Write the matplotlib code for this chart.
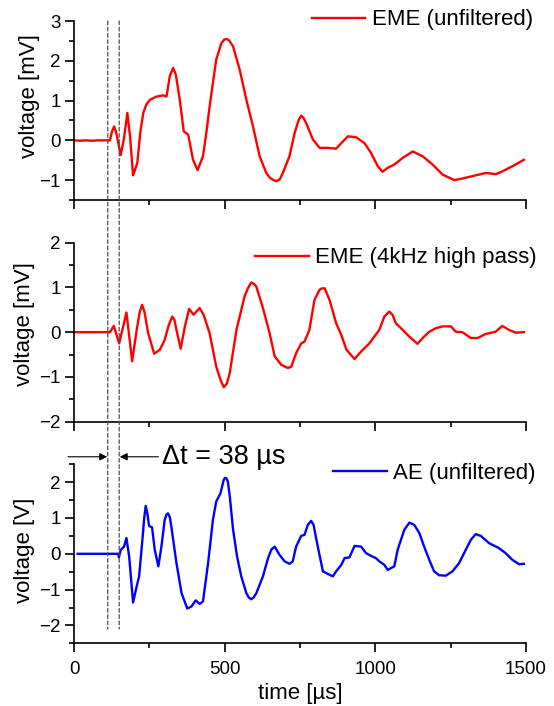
import matplotlib
matplotlib.use('Agg')
import matplotlib.pyplot as plt
from matplotlib.patches import ConnectionPatch
from matplotlib.ticker import MultipleLocator

plt.rcParams['font.family'] = ['Liberation Sans', 'DejaVu Sans']

# EME (unfiltered), time in us, voltage in mV
t_eme = [0, 20, 40, 60, 80, 100, 119, 126, 133, 140, 155, 166, 177, 186, 196, 210, 220, 230,
         240, 252, 274, 296, 307, 318, 329, 338, 351, 364, 379, 395, 410, 428, 439, 450,
         461, 472, 489, 498, 506, 515, 528, 550, 572, 594, 616, 638, 650, 660, 671, 683,
         693, 715, 732, 746, 754, 762, 770, 793, 815, 842, 870, 887, 909, 936, 964,
         986, 1008, 1024, 1041, 1063, 1091, 1124, 1157, 1190, 1223, 1262, 1289, 1322,
         1367, 1400, 1422, 1455, 1493]
v_eme = [0.0, -0.01, 0.0, -0.01, 0.0, 0.0, 0.0, 0.22, 0.35, 0.2, -0.37, 0.05, 0.69, 0.1,
         -0.88, -0.57, 0.2, 0.69, 0.9, 1.02, 1.10, 1.13, 1.10, 1.62, 1.82, 1.65, 1.02,
         0.23, 0.14, -0.49, -0.75, -0.40, 0.18, 0.85, 1.45, 2.03, 2.44, 2.53, 2.55, 2.51,
         2.36, 1.77, 1.02, 0.35, -0.40, -0.82, -0.94, -0.99, -1.03, -0.98, -0.82, -0.40,
         0.18, 0.52, 0.62, 0.56, 0.44, 0.02, -0.19, -0.19, -0.21, -0.07, 0.10, 0.08,
         -0.07, -0.32, -0.65, -0.79, -0.69, -0.61, -0.44, -0.28, -0.40, -0.61, -0.86,
         -1.00, -0.96, -0.90, -0.82, -0.85, -0.78, -0.65, -0.49]

# EME (4kHz high pass), mV
t_hp = [0, 40, 80, 119, 132, 150, 174, 193, 208, 218, 226, 234, 246, 266, 285, 301, 314, 326,
        333, 340, 354, 368, 382, 397, 417, 430, 450, 472, 487, 497, 507, 517, 539, 566,
        577, 588, 597, 605, 627, 649, 666, 688, 710, 721, 737, 754, 765, 781, 798, 815,
        823, 832, 848, 870, 887, 904, 931, 953, 980, 1013, 1030, 1046, 1057, 1068, 1091,
        1113, 1140, 1157, 1179, 1201, 1223, 1251, 1267, 1289, 1317, 1339, 1366, 1399,
        1421, 1444, 1466, 1493]
v_hp = [0.0, 0.0, 0.0, 0.0, 0.14, -0.25, 0.44, -0.65, 0.05, 0.45, 0.61, 0.45, -0.02, -0.48,
        -0.39, -0.17, 0.15, 0.35, 0.28, 0.05, -0.37, 0.13, 0.52, 0.39, 0.54, 0.39, -0.02,
        -0.77, -1.08, -1.23, -1.15, -0.91, 0.05, 0.80, 0.98, 1.11, 1.08, 1.02, 0.54,
        -0.02, -0.54, -0.73, -0.80, -0.77, -0.47, -0.25, -0.21, 0.05, 0.72, 0.95, 0.98,
        0.98, 0.72, 0.20, -0.06, -0.39, -0.60, -0.43, -0.25, 0.05, 0.35, 0.46, 0.39,
        0.20, 0.05, -0.10, -0.26, -0.13, 0.01, 0.09, 0.13, 0.13, 0.01, 0.0, -0.13, -0.13,
        -0.04, 0.01, 0.14, 0.05, -0.01, 0.0]

# AE (unfiltered), V
t_ae = [12, 50, 100, 147, 149, 155, 166, 174, 183, 196, 208, 216, 227, 233, 238, 244, 249,
        259, 268, 280, 290, 301, 307, 312, 318, 323, 340, 357, 376, 390, 404, 417, 428,
        445, 461, 472, 486, 497, 501, 506, 511, 517, 528, 541, 555, 572, 580, 588, 596,
        605, 627, 644, 655, 666, 682, 699, 715, 726, 737, 754, 765, 776, 787, 795, 809,
        826, 842, 859, 870, 887, 898, 914, 931, 953, 969, 986, 1002, 1013, 1030, 1041,
        1063, 1074, 1096, 1113, 1129, 1146, 1162, 1179, 1195, 1212, 1234, 1256, 1278,
        1300, 1317, 1333, 1350, 1377, 1410, 1432, 1455, 1477, 1493]
v_ae = [0.0, 0.0, 0.0, 0.0, -0.10, 0.11, 0.20, 0.44, -0.07, -1.36, -0.91, -0.63, 0.39, 1.0,
        1.34, 1.1, 0.78, 0.74, 0.11, -0.35, 0.20, 0.95, 1.1, 1.13, 1.02, 0.76, -0.26, -1.10,
        -1.53, -1.47, -1.30, -1.40, -1.33, -0.26, 0.95, 1.46, 1.69, 2.07, 2.12, 2.11, 2.0,
        1.60, 0.67, -0.07, -0.63, -1.10, -1.22, -1.27, -1.22, -1.10, -0.63, -0.12, 0.12,
        0.20, -0.03, -0.21, -0.28, -0.21, 0.20, 0.50, 0.53, 0.81, 0.92, 0.81, 0.20, -0.49,
        -0.56, -0.63, -0.49, -0.31, -0.12, -0.10, 0.22, 0.20, 0.02, -0.06, -0.12, -0.21,
        -0.31, -0.45, -0.35, 0.11, 0.67, 0.87, 0.81, 0.58, 0.20, -0.17, -0.49, -0.60,
        -0.61, -0.49, -0.26, 0.11, 0.39, 0.55, 0.50, 0.30, 0.16, 0.02, -0.17, -0.29, -0.28]

t_start = 112
t_end = 150

fig = plt.figure(figsize=(5.54, 7.06), dpi=100)
w = 452 / 554
h = 179 / 706
ax1 = fig.add_axes([74 / 554, 1 - 200 / 706, w, h])
ax2 = fig.add_axes([74 / 554, 1 - 421.7 / 706, w, h])
ax3 = fig.add_axes([74 / 554, 1 - 643.3 / 706, w, h])

ax1.plot(t_eme, v_eme, color='#ff0000', lw=1.7, label='EME (unfiltered)')
ax2.plot(t_hp, v_hp, color='#ff0000', lw=1.7, label='EME (4kHz high pass)')
ax3.plot(t_ae, v_ae, color='#0000ff', lw=1.7, label='AE (unfiltered)')

ax1.set_ylim(-1.5, 3)
ax2.set_ylim(-2, 2)
ax3.set_ylim(-2.5, 2.5)
ax1.set_yticks([-1, 0, 1, 2, 3])
ax2.set_yticks([-2, -1, 0, 1, 2])
ax3.set_yticks([-2, -1, 0, 1, 2])

ylabels = ['voltage [mV]', 'voltage [mV]', 'voltage [V]']
lx = [-0.076, -0.086, -0.086]
ly = [0.581, 0.543, 0.521]
legy = [1.006, 0.915, 0.951]
legx = [1.015, 1.024, 1.022]
for i, ax in enumerate([ax1, ax2, ax3]):
    ax.set_xlim(0, 1500)
    ax.set_xticks([0, 500, 1000, 1500])
    ax.xaxis.set_minor_locator(MultipleLocator(250))
    ax.yaxis.set_minor_locator(MultipleLocator(0.5))
    for s in ['top', 'right']:
        ax.spines[s].set_visible(False)
    for s in ['left', 'bottom']:
        ax.spines[s].set_linewidth(1.2)
    ax.tick_params(which='major', direction='out', length=6.5, width=1.2, labelsize=13.5, pad=3)
    ax.tick_params(which='minor', direction='out', length=3.5, width=1.2)
    ax.tick_params(axis='x', which='major', pad=6.5)
    if ax is not ax3:
        ax.tick_params(labelbottom=False)
    ax.set_ylabel(ylabels[i], fontsize=16)
    ax.yaxis.set_label_coords(lx[i], ly[i])
    ax.legend(loc='center right', bbox_to_anchor=(legx[i], legy[i]), frameon=False,
              fontsize=16, handlelength=2.4, handletextpad=0.3, borderpad=0,
              borderaxespad=0)

ax3.set_xlabel('time [µs]', fontsize=16, labelpad=3)

# dashed markers across all panels
for tx in [t_start, t_end]:
    con = ConnectionPatch(xyA=(tx, 3), coordsA=ax1.transData,
                          xyB=(tx, -2.1), coordsB=ax3.transData,
                          linestyle=(0, (3, 2)), color='0.3', lw=0.9)
    fig.add_artist(con)

# delta t arrows
ax3.annotate('', xy=(t_start - 2, 2.71), xytext=(-20, 2.71), annotation_clip=False,
             arrowprops=dict(arrowstyle='-|>', lw=0.8, color='k', mutation_scale=11,
                             shrinkA=0, shrinkB=0))
ax3.annotate('', xy=(t_end + 2, 2.71), xytext=(280, 2.71), annotation_clip=False,
             arrowprops=dict(arrowstyle='-|>', lw=0.8, color='k', mutation_scale=11,
                             shrinkA=0, shrinkB=0))
ax3.text(292, 2.70, 'Δt = 38 µs', fontsize=19.5, va='center', ha='left', clip_on=False)

fig.savefig('out.png', dpi=100)
